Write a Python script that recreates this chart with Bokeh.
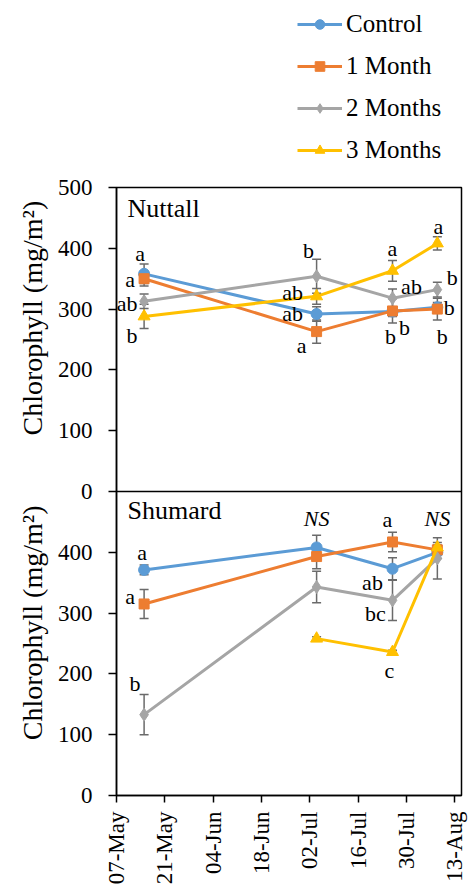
import math
import numpy as np
from bokeh.plotting import figure
from bokeh.layouts import column
from bokeh.models import (Range1d, FixedTicker, DatetimeTickFormatter, Whisker, ColumnDataSource,
                          Legend, LegendItem, TeeHead, Label, Span)
from bokeh.core.properties import value
from bokeh.embed import file_html
from bokeh.resources import INLINE

# ---------------- data ----------------
dates = ["2018-05-15", "2018-07-04", "2018-07-26", "2018-08-08"]
series_names = ["Control", "1 Month", "2 Months", "3 Months"]
x_tick_dates = ["2018-05-07", "2018-05-21", "2018-06-04", "2018-06-18",
                "2018-07-02", "2018-07-16", "2018-07-30", "2018-08-13"]
x_start, x_end = "2018-05-07", "2018-08-15"

nuttall_control = [358, 292, 296, 303]
nuttall_1m = [350, 263, 297, 300]
nuttall_2m = [313, 354, 318, 332]
nuttall_3m = [288, 321, 363, 408]
nuttall_control_err = [16, 12, 8, 8]
nuttall_1m_err = [12, 19, 20, 18]
nuttall_2m_err = [12, 28, 15, 12]
nuttall_3m_err = [20, 13, 17, 11]
nuttall_control_letters = ["a", "ab", "b", "b"]
nuttall_1m_letters = ["a", "a", "b", "b"]
nuttall_2m_letters = ["ab", "b", "ab", "b"]
nuttall_3m_letters = ["b", "ab", "a", "a"]

shumard_control = [371, 408, 373, 400]
shumard_1m = [315, 393, 417, 404]
shumard_2m = [133, 343, 321, 390]
shumard_3m = [float("nan"), 258, 236, 408]
shumard_control_err = [8, 20, 18, 10]
shumard_1m_err = [24, 20, 16, 8]
shumard_2m_err = [33, 26, 33, 34]
shumard_3m_err = [float("nan"), 3, 3, 8]
shumard_control_letters = ["a", "", "ab", ""]
shumard_1m_letters = ["a", "", "a", ""]
shumard_2m_letters = ["b", "", "bc", ""]
shumard_3m_letters = ["", "", "c", ""]
shumard_ns = ["", "NS", "", "NS"]

panel_max = 500
y_ticks_top = [0, 100, 200, 300, 400, 500]
y_ticks_bottom = [0, 100, 200, 300, 400]
y_title = "Chlorophyll (mg/m\u00b2)"

# ---------------- styles ----------------
colors = ["#5B9BD5", "#ED7D31", "#A5A5A5", "#FFC000"]
markers = ["circle", "square", "diamond", "triangle"]
msizes = [11, 10, 13, 12]
FONT = "Liberation Serif"
ERR_COLOR = "#6a6a6a"
NB = "\u00a0"

# label offsets (screen px): dx, dy (positive dy = down)
nuttall_off = [
    ([-4, -24, 12, 12], [-20, 0, 16, 0]),
    ([-14, -15, -2, 5], [1, 14, 26, 27]),
    ([-17, -8, 19, 15], [2, -26, -12, -12]),
    ([-12, -24, 0, 1], [19, -4, -22, -17]),
]
shumard_off = [
    ([-2, 0, -20, 0], [-17, 0, 14, 0]),
    ([-14, 0, -5, 0], [-7, 0, -22, 0]),
    ([-9, 0, -17, 0], [-31, 0, 13, 0]),
    ([0, 0, -3, 0], [0, 0, 18, 0]),
]
ns_off = ([0, 0, 0, 0], [0, -29, 0, -34])


def ms(d):
    return float(np.datetime64(d, "ms").astype("int64"))


xd = [ms(d) for d in dates]

# one figure holds both panels: the lower panel uses the default y range (0..2*panel_max,
# its data in the lower half); the upper panel uses the "top" range (-panel_max..panel_max)
p = figure(width=470, height=722, x_range=Range1d(ms(x_start), ms(x_end)),
           y_range=Range1d(0, 2 * panel_max), x_axis_type="datetime",
           toolbar_location=None, output_backend="svg",
           min_border_left=116, min_border_right=9, min_border_top=15, min_border_bottom=99)
p.extra_y_ranges = {"top": Range1d(-panel_max, panel_max)}
p.outline_line_color = "black"
p.outline_line_width = 1.5
p.xgrid.visible = False
p.ygrid.visible = False
p.background_fill_color = None
p.border_fill_color = None
p.add_layout(Span(location=panel_max, dimension="width", line_color="black", line_width=1.5))

ya = p.yaxis[0]
tick_pos = list(y_ticks_bottom) + [panel_max + t for t in y_ticks_top]
ya.ticker = FixedTicker(ticks=tick_pos)
ya.major_label_overrides = {**{t: str(t) for t in y_ticks_bottom},
                            **{panel_max + t: str(t) for t in y_ticks_top}}
ya.major_tick_out = 8
ya.major_tick_in = 0
ya.minor_tick_out = 0
ya.minor_tick_in = 0
ya.axis_line_color = "black"
ya.axis_line_width = 1.5
ya.major_tick_line_color = "black"
ya.major_tick_line_width = 1.5
ya.major_label_text_font = FONT
ya.major_label_text_font_size = "23px"
ya.major_label_text_color = "black"
ya.major_label_standoff = 16
# the two panel titles share one rotated label (bottom title first, reading upwards)
ya.axis_label = NB * 6 + y_title + NB * 10 + y_title
ya.axis_label_text_font = FONT
ya.axis_label_text_font_size = "28px"
ya.axis_label_text_font_style = "normal"
ya.axis_label_text_color = "black"
ya.axis_label_standoff = 7

xa = p.xaxis[0]
xa.ticker = FixedTicker(ticks=[ms(d) for d in x_tick_dates])
fmt = "%d-%b"
xa.formatter = DatetimeTickFormatter(days=fmt, months=fmt, hours=fmt, years=fmt,
                                     minutes=fmt, seconds=fmt, milliseconds=fmt,
                                     microseconds=fmt, hourmin=fmt, minsec=fmt)
xa.major_label_orientation = math.pi / 2
xa.major_tick_out = 7
xa.major_tick_in = 0
xa.minor_tick_out = 0
xa.minor_tick_in = 0
xa.axis_line_color = "black"
xa.axis_line_width = 1.5
xa.major_tick_line_color = "black"
xa.major_tick_line_width = 1.5
xa.major_label_text_font = FONT
xa.major_label_text_font_size = "23px"
xa.major_label_text_color = "black"
xa.major_label_standoff = 9


def draw_panel(vals, errs, letters, offs, rname, title, title_y, ns=None):
    lab_x, lab_y, lab_t, lab_dx, lab_dy = [], [], [], [], []
    for i in range(4):
        v = vals[i]
        e = errs[i]
        src = ColumnDataSource(dict(x=xd, y=v))
        p.line("x", "y", source=src, line_color=colors[i], line_width=3, y_range_name=rname)
        p.scatter("x", "y", source=src, marker=markers[i], size=msizes[i],
                  fill_color=colors[i], line_color=colors[i], y_range_name=rname)
        ok = [j for j in range(4) if not (np.isnan(v[j]) or np.isnan(e[j]))]
        wsrc = ColumnDataSource(dict(x=[xd[j] for j in ok],
                                     upper=[v[j] + e[j] for j in ok],
                                     lower=[v[j] - e[j] for j in ok]))
        w = Whisker(source=wsrc, base="x", upper="upper", lower="lower", y_range_name=rname,
                    line_color=ERR_COLOR, line_width=1.5,
                    upper_head=TeeHead(size=9, line_color=ERR_COLOR, line_width=1.5),
                    lower_head=TeeHead(size=9, line_color=ERR_COLOR, line_width=1.5))
        p.add_layout(w)
        for j in range(4):
            if letters[i][j]:
                lab_x.append(xd[j])
                lab_y.append(v[j])
                lab_t.append(letters[i][j])
                lab_dx.append(offs[i][0][j])
                lab_dy.append(offs[i][1][j])
    lsrc = ColumnDataSource(dict(x=lab_x, y=lab_y, t=lab_t, dx=lab_dx, dy=lab_dy))
    p.text("x", "y", text="t", x_offset="dx", y_offset="dy", source=lsrc, y_range_name=rname,
           text_font=value(FONT), text_font_size="22px", text_align="center",
           text_baseline="middle", text_color="black")

    if ns is not None:
        nx, ny, nt, ndx, ndy = [], [], [], [], []
        for j in range(4):
            if ns[j]:
                nx.append(xd[j]); ny.append(vals[0][j]); nt.append(ns[j])
                ndx.append(ns_off[0][j]); ndy.append(ns_off[1][j])
        nsrc = ColumnDataSource(dict(x=nx, y=ny, t=nt, dx=ndx, dy=ndy))
        p.text("x", "y", text="t", x_offset="dx", y_offset="dy", source=nsrc, y_range_name=rname,
               text_font=value(FONT), text_font_size="22px", text_font_style="italic",
               text_align="center", text_baseline="middle", text_color="black")

    p.add_layout(Label(x=ms(x_start), y=title_y, x_offset=11, text=title, y_range_name=rname,
                       text_font=FONT, text_font_size="26px", text_align="left",
                       text_baseline="middle", text_color="black"))


draw_panel([nuttall_control, nuttall_1m, nuttall_2m, nuttall_3m],
           [nuttall_control_err, nuttall_1m_err, nuttall_2m_err, nuttall_3m_err],
           [nuttall_control_letters, nuttall_1m_letters, nuttall_2m_letters, nuttall_3m_letters],
           nuttall_off, "top", "Nuttall", 465)
draw_panel([shumard_control, shumard_1m, shumard_2m, shumard_3m],
           [shumard_control_err, shumard_1m_err, shumard_2m_err, shumard_3m_err],
           [shumard_control_letters, shumard_1m_letters, shumard_2m_letters, shumard_3m_letters],
           shumard_off, "default", "Shumard", 469, ns=shumard_ns)

# legend figure (its frame is aligned with the panel frame: left 116)
lf = figure(width=470, height=172, x_range=Range1d(0, 1), y_range=Range1d(0, 1),
            x_axis_location=None, y_axis_location=None, toolbar_location=None,
            output_backend="svg", min_border=0)
lf.outline_line_color = None
lf.xgrid.visible = False
lf.ygrid.visible = False
lf.border_fill_color = None
lf.background_fill_color = None
items = []
legend_vals = [nuttall_control, nuttall_1m, nuttall_2m, nuttall_3m]
for i, name in enumerate(series_names):
    # same data as the panels, outside this figure's ranges: only the legend icons show
    lr = lf.line(x=xd, y=legend_vals[i], line_color=colors[i], line_width=3)
    sr = lf.scatter(x=xd, y=legend_vals[i], marker=markers[i], size=msizes[i],
                    fill_color=colors[i], line_color=colors[i])
    items.append(LegendItem(label=name, renderers=[lr, sr]))
leg = Legend(items=items, location=(181, 7), orientation="vertical", glyph_width=45,
             glyph_height=24, label_height=30, spacing=12, padding=0, margin=0,
             label_standoff=4, border_line_color=None, background_fill_alpha=0,
             label_text_font=FONT, label_text_font_size="25px", label_text_color="black")
lf.add_layout(leg)

layout = column(lf, p, spacing=0)
open("out.html", "w").write(file_html(layout, INLINE))
